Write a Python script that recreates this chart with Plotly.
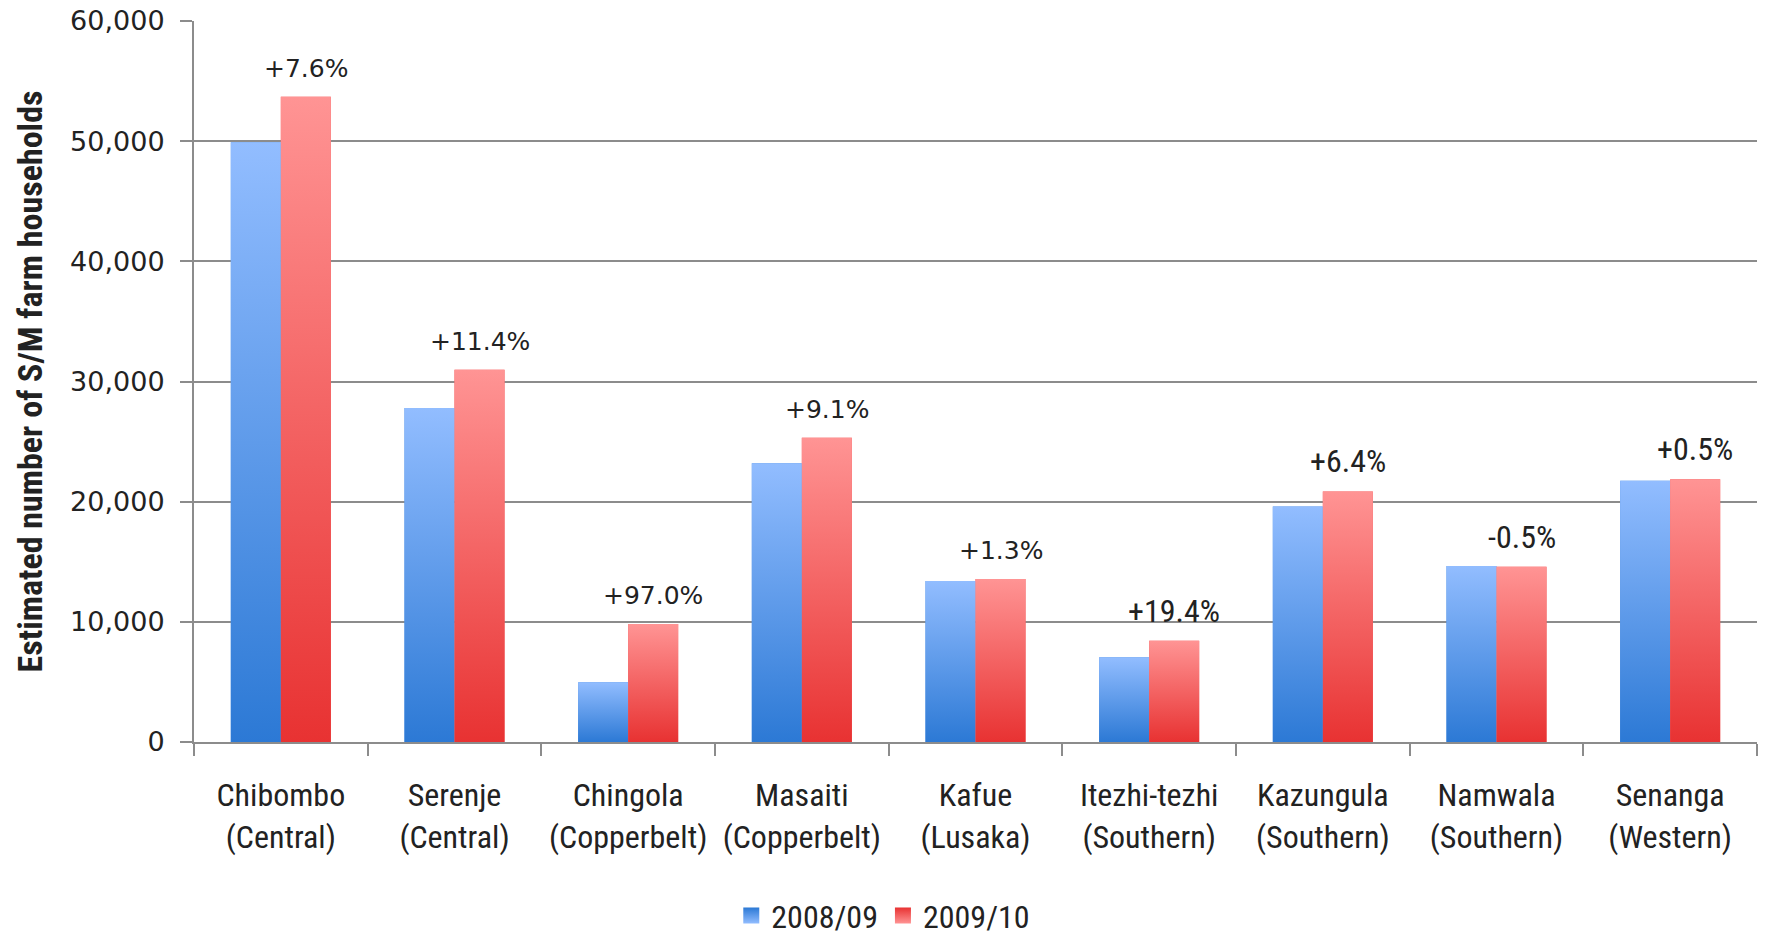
import plotly.graph_objects as go

# Districts (province) shown along the x axis
districts = ["Chibombo", "Serenje", "Chingola", "Masaiti", "Kafue",
             "Itezhi-tezhi", "Kazungula", "Namwala", "Senanga"]
provinces = ["Central", "Central", "Copperbelt", "Copperbelt", "Lusaka",
             "Southern", "Southern", "Southern", "Western"]

# Estimated number of small/medium farm households per season
households_2008_09 = [49900, 27800, 4980, 23200, 13400, 7050, 19600, 14650, 21750]
households_2009_10 = [53700, 30970, 9810, 25310, 13570, 8420, 20850, 14580, 21860]

# Change between the two seasons
change_labels = ["+7.6%", "+11.4%", "+97.0%", "+9.1%", "+1.3%",
                 "+19.4%", "+6.4%", "-0.5%", "+0.5%"]

series_names = ["2008/09", "2009/10"]
y_ticks = [0, 10000, 20000, 30000, 40000, 50000, 60000]

# Styling
BAR_W = 0.288
BLUE_DARK, BLUE_LIGHT = "#2c79d5", "#92bdff"
RED_DARK, RED_LIGHT = "#e83232", "#ff9494"
GRID = "#8c8c8c"
TEXT = "#222222"
NARROW = "Liberation Sans Narrow, Roboto Condensed, Lato, sans-serif"
WIDE = "DejaVu Sans, Verdana, sans-serif"

xs = list(range(len(districts)))
tick_text = [f"{d}<br>({p})" for d, p in zip(districts, provinces)]

fig = go.Figure()

series = [
    (series_names[0], households_2008_09, -BAR_W, BLUE_DARK, BLUE_LIGHT, "#4a8ce0"),
    (series_names[1], households_2009_10, 0.0, RED_DARK, RED_LIGHT, "#f25252"),
]

for name, vals, off, dark, light, mid in series:
    # base bars
    fig.add_trace(go.Bar(
        x=xs, y=vals, name=name, width=BAR_W, offset=off,
        marker=dict(color=mid, line=dict(width=0)), showlegend=False,
    ))

for name, vals, off, dark, light, mid in series:
    # per-bar vertical gradient drawn over each bar's footprint
    for x, v in zip(xs, vals):
        x0, x1 = x + off, x + off + BAR_W
        fig.add_trace(go.Scatter(
            x=[x0, x0, x1, x1, x0], y=[0, v, v, 0, 0],
            mode="lines", fill="toself", line=dict(width=0),
            fillgradient=dict(type="vertical",
                              colorscale=[[0, dark], [1, light]]),
            showlegend=False, hoverinfo="skip",
        ))

# legend keys (square swatches)
for name, vals, off, dark, light, mid in series:
    fig.add_trace(go.Scatter(
        x=[None], y=[None], mode="markers", name=name,
        marker=dict(symbol="square", size=16, color=dark,
                    gradient=dict(type="vertical", color=light),
                    line=dict(width=0)),
    ))

# percentage change labels above the 2009/10 bars
for i, (x, v, lab) in enumerate(zip(xs, households_2009_10, change_labels)):
    fig.add_annotation(
        x=x + BAR_W / 2, y=v, text=lab, showarrow=False,
        yanchor="bottom", yshift=12 if i < 5 else 9,
        font=dict(family=WIDE if i < 5 else NARROW,
                  size=25 if i < 5 else 32, color=TEXT),
    )

# y axis title
fig.add_annotation(
    xref="paper", yref="paper", x=-0.105, y=0.5,
    text="Estimated number of S/M farm households", textangle=-90,
    showarrow=False, xanchor="center", yanchor="middle",
    font=dict(family=NARROW, size=34, color=TEXT, weight="bold"),
)

fig.update_layout(
    width=1766, height=936,
    margin=dict(l=194, r=9, t=21, b=194, autoexpand=False),
    plot_bgcolor="white", paper_bgcolor="white",
    barmode="overlay",
    showlegend=True,
    legend=dict(orientation="h", x=0.441, xanchor="center",
                y=-0.241, yanchor="middle",
                font=dict(family=NARROW, size=32, color=TEXT),
                itemwidth=30, traceorder="normal"),
    xaxis=dict(
        range=[-0.5, 8.5], tickmode="array", tickvals=xs, ticktext=tick_text,
        ticks="", showgrid=False, zeroline=False, automargin=False,
        showline=True, linecolor=GRID, linewidth=2,
        tickfont=dict(family=NARROW, size=32, color=TEXT),
        ticklabelstandoff=24,
        minor=dict(tickmode="array",
                   tickvals=[x - 0.5 for x in xs] + [xs[-1] + 0.5],
                   ticks="outside", ticklen=12, tickwidth=2, tickcolor=GRID,
                   showgrid=False),
    ),
    yaxis=dict(
        range=[0, 60000], tickmode="array", tickvals=y_ticks,
        tickformat=",d", ticks="outside", ticklen=12, tickwidth=2,
        tickcolor=GRID, showgrid=True, gridcolor=GRID, gridwidth=2,
        zeroline=False, showline=True, linecolor=GRID, linewidth=2,
        automargin=False,
        tickfont=dict(family=WIDE, size=27, color=TEXT),
        ticklabelstandoff=10,
    ),
)

fig.write_html("out.html")
